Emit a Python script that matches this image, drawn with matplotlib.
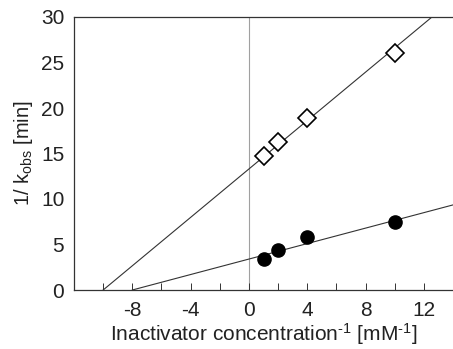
import matplotlib
matplotlib.use("Agg")
import matplotlib.pyplot as plt
import numpy as np

plt.rcParams['font.family'] = ['Liberation Sans', 'DejaVu Sans']
plt.rcParams['mathtext.default'] = 'regular'
plt.rcParams['axes.unicode_minus'] = False

x_inv = [1, 2, 4, 10]
y_open = [14.7, 16.3, 18.9, 26.0]
y_filled = [3.4, 4.4, 5.8, 7.5]

# fitted lines: (x-intercept, y-intercept)
fit_open = (-10.0, 13.3)
fit_filled = (-8.0, 3.4)

x_ticks = [-8, -4, 0, 4, 8, 12]
y_ticks = [0, 5, 10, 15, 20, 25, 30]

fig = plt.figure(figsize=(4.53, 3.49), dpi=100)
ax = fig.add_axes([74/453, (349-290)/349, (453-74)/453, (290-17)/349])
ax.set_xlim(-12, 14)
ax.set_ylim(0, 30)

for (x0, b) in (fit_open, fit_filled):
    slope = -b / x0
    xs = np.array([x0, 14.0])
    ax.plot(xs, b + slope * xs, color='#333333', lw=0.8, zorder=2, clip_on=True)

ax.axvline(0, color='#a0a0a0', lw=0.8, zorder=1)

ax.plot(x_inv, y_open, linestyle='none', marker='D', ms=9, mfc='white', mec='black', mew=1.2, zorder=3)
ax.plot(x_inv, y_filled, linestyle='none', marker='o', ms=9.5, mfc='black', mec='black', zorder=3)

ax.spines['right'].set_visible(False)
for s in ('left', 'bottom', 'top'):
    ax.spines[s].set_linewidth(0.9)
    ax.spines[s].set_color('#333333')

ax.set_xticks(x_ticks)
ax.set_xticks(np.arange(-10, 15, 2), minor=True)
ax.set_yticks(y_ticks)
ax.tick_params(axis='x', which='both', direction='in', length=5, width=0.7, labelsize=15, pad=8, colors='#333333', labelcolor='#222222')
ax.tick_params(axis='y', length=0, labelsize=15, pad=7, labelcolor='#222222')

ax.set_xlabel('Inactivator concentration$^{\u20101}$ [mM$^{\u20101}$]', fontsize=15, color='#222222', labelpad=1)
ax.set_ylabel('1/ k$_{obs}$ [min]', fontsize=14.5, color='#222222', labelpad=4)

fig.savefig('out.png', dpi=100)
